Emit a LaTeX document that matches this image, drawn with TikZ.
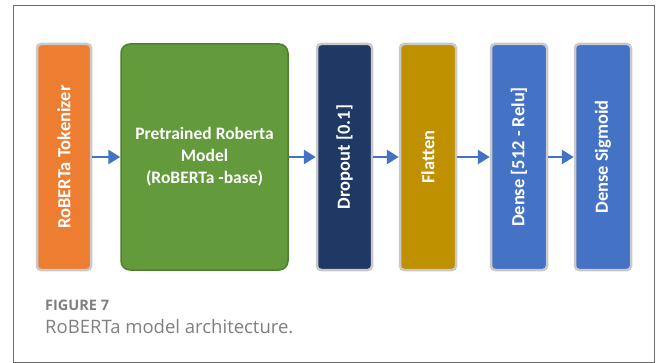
\documentclass[tikz,border=0pt]{standalone}
\usepackage{fontspec}
\setmainfont{Carlito}
\newfontfamily\capfont{Open Sans}
\usetikzlibrary{arrows.meta}
\definecolor{orangeC}{HTML}{ED7D31}
\definecolor{greenC}{HTML}{629A3C}
\definecolor{greenB}{HTML}{4F7F2F}
\definecolor{navyC}{HTML}{203864}
\definecolor{goldC}{HTML}{BF9000}
\definecolor{blueC}{HTML}{4472C4}
\definecolor{grayB}{HTML}{C9C9C9}
\definecolor{capC}{HTML}{7F7F7F}
\tikzset{
  layer/.style={draw=grayB, line width=2.5pt, rounded corners=4pt, text=white, inner sep=0pt},
  vlabel/.style={rotate=90, text=white, font=\bfseries\fontsize{18.5}{20}\selectfont},
  bigbox/.style={draw=greenB, fill=greenC, line width=1.5pt, rounded corners=9pt, text=white,
    font=\bfseries\fontsize{17.5}{22}\selectfont, align=center, inner sep=0pt},
  flow/.style={draw=blueC, line width=2.8pt, -{Triangle[length=12pt,width=14pt]}},
}
\begin{document}
\begin{tikzpicture}[x=1pt,y=-1pt]
\useasboundingbox (0,0) rectangle (658,363);
\draw[draw=gray!85!black, line width=1pt] (13,6) rectangle (654,362);
\node[layer, fill=orangeC, minimum width=54pt, minimum height=226pt] (tok) at (64,157) {};
\node[vlabel] (tokt) at (tok.center) {RoBERTa Tokenizer};
\node[bigbox, minimum width=167pt, minimum height=226pt] (rob) at (204.5,157) {Pretrained Roberta\\Model\\(RoBERTa -base)};
\node[layer, fill=navyC, minimum width=55pt, minimum height=226pt] (drop) at (344.5,157) {};
\node[vlabel] (dropt) at (drop.center) {Dropout [0.1]};
\node[layer, fill=goldC, minimum width=56pt, minimum height=226pt] (flat) at (428,157) {};
\node[vlabel] (flatt) at (flat.center) {Flatten};
\node[layer, fill=blueC, minimum width=56pt, minimum height=226pt] (d512) at (519,157) {};
\node[vlabel] (d512t) at (d512.center) {Dense [512 - Relu]};
\node[layer, fill=blueC, minimum width=56pt, minimum height=226pt] (dsig) at (603,157) {};
\node[vlabel] (dsigt) at (dsig.center) {Dense Sigmoid};
\draw[flow] (tok.east) -- (rob.west);
\draw[flow] (rob.east) -- (drop.west);
\draw[flow] (drop.east) -- (flat.west);
\draw[flow] (flat.east) -- (d512.west);
\draw[flow] (d512.east) -- (dsig.west);
\node[anchor=base west, inner sep=0pt, text=capC, font=\capfont\bfseries\fontsize{14.5}{15}\selectfont] (fig) at (45,310) {FIGURE 7};
\node[anchor=base west, inner sep=0pt, text=capC, font=\capfont\fontsize{18.5}{19}\selectfont] (cap) at (45,333) {RoBERTa model architecture.};
\end{tikzpicture}
\end{document}
